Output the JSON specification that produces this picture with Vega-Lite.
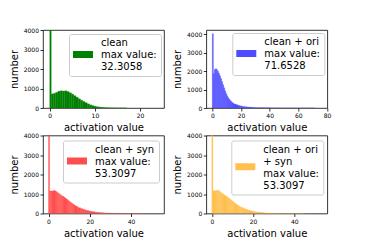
{
  "$schema": "https://vega.github.io/schema/vega-lite/v6.json",
  "padding": {"left": 8, "top": 26, "right": 5, "bottom": 5},
  "columns": 2,
  "spacing": {"row": 27.5, "column": 42.3},
  "bounds": "flush",
  "resolve": {
    "scale": {"color": "independent", "x": "independent", "y": "independent"},
    "legend": {"color": "independent"}
  },
  "config": {
    "font": "DejaVu Sans",
    "view": {"stroke": "black", "strokeWidth": 0.8},
    "axis": {
      "domain": false, "grid": false, "tickColor": "black", "tickWidth": 0.8, "tickSize": 3,
      "labelFontSize": 6, "labelColor": "black", "labelPadding": 1.5, "labelFlush": false, "labelOverlap": false,
      "titleFontSize": 10, "titleFontWeight": "normal", "titleColor": "black", "titlePadding": 4
    },
    "legend": {
      "symbolSize": 100, "symbolStrokeWidth": 0, "symbolOpacity": 1,
      "labelFontSize": 10, "labelColor": "black", "labelOffset": 18, "labelLimit": 200,
      "fillColor": "white", "strokeColor": "#cccccc", "cornerRadius": 2, "padding": 4
    }
  },
  "concat": [
    {
      "width": 121, "height": 78,
      "data": {"values": [
        {"lo": 0, "hi": 0.33, "count": 9000, "series": "clean|max value:|\u00a032.3058"},
        {"lo": 0.33, "hi": 0.8, "count": 720, "series": "clean|max value:|\u00a032.3058"},
        {"lo": 0.8, "hi": 1.3, "count": 750, "series": "clean|max value:|\u00a032.3058"},
        {"lo": 1.3, "hi": 1.8, "count": 800, "series": "clean|max value:|\u00a032.3058"},
        {"lo": 1.8, "hi": 2.3, "count": 860, "series": "clean|max value:|\u00a032.3058"},
        {"lo": 2.3, "hi": 2.8, "count": 880, "series": "clean|max value:|\u00a032.3058"},
        {"lo": 2.8, "hi": 3.3, "count": 870, "series": "clean|max value:|\u00a032.3058"},
        {"lo": 3.3, "hi": 3.8, "count": 880, "series": "clean|max value:|\u00a032.3058"},
        {"lo": 3.8, "hi": 4.3, "count": 840, "series": "clean|max value:|\u00a032.3058"},
        {"lo": 4.3, "hi": 4.8, "count": 780, "series": "clean|max value:|\u00a032.3058"},
        {"lo": 4.8, "hi": 5.3, "count": 710, "series": "clean|max value:|\u00a032.3058"},
        {"lo": 5.3, "hi": 5.8, "count": 630, "series": "clean|max value:|\u00a032.3058"},
        {"lo": 5.8, "hi": 6.3, "count": 550, "series": "clean|max value:|\u00a032.3058"},
        {"lo": 6.3, "hi": 6.8, "count": 470, "series": "clean|max value:|\u00a032.3058"},
        {"lo": 6.8, "hi": 7.3, "count": 400, "series": "clean|max value:|\u00a032.3058"},
        {"lo": 7.3, "hi": 7.8, "count": 330, "series": "clean|max value:|\u00a032.3058"},
        {"lo": 7.8, "hi": 8.3, "count": 270, "series": "clean|max value:|\u00a032.3058"},
        {"lo": 8.3, "hi": 8.8, "count": 210, "series": "clean|max value:|\u00a032.3058"},
        {"lo": 8.8, "hi": 9.3, "count": 160, "series": "clean|max value:|\u00a032.3058"},
        {"lo": 9.3, "hi": 9.8, "count": 120, "series": "clean|max value:|\u00a032.3058"},
        {"lo": 9.8, "hi": 10.3, "count": 90, "series": "clean|max value:|\u00a032.3058"},
        {"lo": 10.3, "hi": 10.8, "count": 65, "series": "clean|max value:|\u00a032.3058"},
        {"lo": 10.8, "hi": 11.3, "count": 45, "series": "clean|max value:|\u00a032.3058"},
        {"lo": 11.3, "hi": 11.8, "count": 32, "series": "clean|max value:|\u00a032.3058"},
        {"lo": 11.8, "hi": 12.3, "count": 22, "series": "clean|max value:|\u00a032.3058"},
        {"lo": 12.3, "hi": 12.8, "count": 15, "series": "clean|max value:|\u00a032.3058"},
        {"lo": 12.8, "hi": 13.5, "count": 9, "series": "clean|max value:|\u00a032.3058"},
        {"lo": 13.5, "hi": 14.5, "count": 5, "series": "clean|max value:|\u00a032.3058"},
        {"lo": 14.5, "hi": 17, "count": 2, "series": "clean|max value:|\u00a032.3058"}
      ]},
      "mark": {"type": "rect", "clip": true, "stroke": "#008000", "strokeWidth": 0.3},
      "encoding": {
        "x": {"field": "lo", "type": "quantitative", "scale": {"domain": [-1.5, 25.3], "nice": false, "zero": false}, "axis": {"values": [0, 10, 20], "title": "activation value"}},
        "x2": {"field": "hi"},
        "y": {"field": "count", "type": "quantitative", "scale": {"domain": [0, 4000], "nice": false}, "axis": {"values": [0, 1000, 2000, 3000, 4000], "format": "d", "title": "number"}},
        "y2": {"datum": 0},
        "color": {"field": "series", "type": "nominal", "scale": {"range": ["#008000"]}, "legend": {"title": null, "orient": "top-right", "offset": 3.5, "labelExpr": "split(datum.label, '|')", "symbolType": "M-1,1.6L3,1.6L3,3L-1,3Z"}}
      }
    },
    {
      "width": 121, "height": 78,
      "data": {"values": [
        {"lo": 0, "hi": 0.72, "count": 4020, "series": "clean + ori|max value:|\u00a071.6528"},
        {"lo": 0.72, "hi": 1.43, "count": 1850, "series": "clean + ori|max value:|\u00a071.6528"},
        {"lo": 1.43, "hi": 2.15, "count": 2080, "series": "clean + ori|max value:|\u00a071.6528"},
        {"lo": 2.15, "hi": 2.87, "count": 2120, "series": "clean + ori|max value:|\u00a071.6528"},
        {"lo": 2.87, "hi": 3.58, "count": 2080, "series": "clean + ori|max value:|\u00a071.6528"},
        {"lo": 3.58, "hi": 4.3, "count": 1990, "series": "clean + ori|max value:|\u00a071.6528"},
        {"lo": 4.3, "hi": 5.0, "count": 1880, "series": "clean + ori|max value:|\u00a071.6528"},
        {"lo": 5.0, "hi": 5.73, "count": 1750, "series": "clean + ori|max value:|\u00a071.6528"},
        {"lo": 5.73, "hi": 6.45, "count": 1600, "series": "clean + ori|max value:|\u00a071.6528"},
        {"lo": 6.45, "hi": 7.17, "count": 1430, "series": "clean + ori|max value:|\u00a071.6528"},
        {"lo": 7.17, "hi": 7.88, "count": 1260, "series": "clean + ori|max value:|\u00a071.6528"},
        {"lo": 7.88, "hi": 8.6, "count": 1090, "series": "clean + ori|max value:|\u00a071.6528"},
        {"lo": 8.6, "hi": 9.32, "count": 930, "series": "clean + ori|max value:|\u00a071.6528"},
        {"lo": 9.32, "hi": 10.03, "count": 790, "series": "clean + ori|max value:|\u00a071.6528"},
        {"lo": 10.03, "hi": 10.75, "count": 660, "series": "clean + ori|max value:|\u00a071.6528"},
        {"lo": 10.75, "hi": 11.47, "count": 560, "series": "clean + ori|max value:|\u00a071.6528"},
        {"lo": 11.47, "hi": 12.18, "count": 480, "series": "clean + ori|max value:|\u00a071.6528"},
        {"lo": 12.18, "hi": 12.9, "count": 410, "series": "clean + ori|max value:|\u00a071.6528"},
        {"lo": 12.9, "hi": 13.62, "count": 350, "series": "clean + ori|max value:|\u00a071.6528"},
        {"lo": 13.62, "hi": 14.33, "count": 300, "series": "clean + ori|max value:|\u00a071.6528"},
        {"lo": 14.33, "hi": 15.05, "count": 260, "series": "clean + ori|max value:|\u00a071.6528"},
        {"lo": 15.05, "hi": 16.5, "count": 215, "series": "clean + ori|max value:|\u00a071.6528"},
        {"lo": 16.5, "hi": 18, "count": 170, "series": "clean + ori|max value:|\u00a071.6528"},
        {"lo": 18, "hi": 19.5, "count": 135, "series": "clean + ori|max value:|\u00a071.6528"},
        {"lo": 19.5, "hi": 21, "count": 105, "series": "clean + ori|max value:|\u00a071.6528"},
        {"lo": 21, "hi": 22.5, "count": 82, "series": "clean + ori|max value:|\u00a071.6528"},
        {"lo": 22.5, "hi": 24, "count": 65, "series": "clean + ori|max value:|\u00a071.6528"},
        {"lo": 24, "hi": 26, "count": 50, "series": "clean + ori|max value:|\u00a071.6528"},
        {"lo": 26, "hi": 28, "count": 38, "series": "clean + ori|max value:|\u00a071.6528"},
        {"lo": 28, "hi": 30, "count": 28, "series": "clean + ori|max value:|\u00a071.6528"},
        {"lo": 30, "hi": 33, "count": 20, "series": "clean + ori|max value:|\u00a071.6528"},
        {"lo": 33, "hi": 36, "count": 13, "series": "clean + ori|max value:|\u00a071.6528"},
        {"lo": 36, "hi": 40, "count": 8, "series": "clean + ori|max value:|\u00a071.6528"},
        {"lo": 40, "hi": 45, "count": 5, "series": "clean + ori|max value:|\u00a071.6528"},
        {"lo": 45, "hi": 55, "count": 2, "series": "clean + ori|max value:|\u00a071.6528"},
        {"lo": 55, "hi": 71.7, "count": 1, "series": "clean + ori|max value:|\u00a071.6528"}
      ]},
      "mark": {"type": "rect", "clip": true, "stroke": "#4d4dff", "strokeWidth": 0.3},
      "encoding": {
        "x": {"field": "lo", "type": "quantitative", "scale": {"domain": [-4.2, 80.2], "nice": false, "zero": false}, "axis": {"values": [0, 20, 40, 60, 80], "title": "activation value"}},
        "x2": {"field": "hi"},
        "y": {"field": "count", "type": "quantitative", "scale": {"domain": [0, 4221], "nice": false}, "axis": {"values": [0, 1000, 2000, 3000, 4000], "format": "d", "title": "number"}},
        "y2": {"datum": 0},
        "color": {"field": "series", "type": "nominal", "scale": {"range": ["#4d4dff"]}, "legend": {"title": null, "orient": "top-right", "offset": 3, "labelExpr": "split(datum.label, '|')", "symbolType": "M-1,1.6L3,1.6L3,3L-1,3Z"}}
      }
    },
    {
      "width": 121, "height": 78,
      "data": {"values": [
        {"lo": 0, "hi": 0.53, "count": 9000, "series": "clean + syn|max value:|\u00a053.3097"},
        {"lo": 0.53, "hi": 1.07, "count": 1150, "series": "clean + syn|max value:|\u00a053.3097"},
        {"lo": 1.07, "hi": 1.6, "count": 1160, "series": "clean + syn|max value:|\u00a053.3097"},
        {"lo": 1.6, "hi": 2.13, "count": 1150, "series": "clean + syn|max value:|\u00a053.3097"},
        {"lo": 2.13, "hi": 2.67, "count": 1170, "series": "clean + syn|max value:|\u00a053.3097"},
        {"lo": 2.67, "hi": 3.2, "count": 1180, "series": "clean + syn|max value:|\u00a053.3097"},
        {"lo": 3.2, "hi": 3.73, "count": 1150, "series": "clean + syn|max value:|\u00a053.3097"},
        {"lo": 3.73, "hi": 4.27, "count": 1110, "series": "clean + syn|max value:|\u00a053.3097"},
        {"lo": 4.27, "hi": 4.8, "count": 1060, "series": "clean + syn|max value:|\u00a053.3097"},
        {"lo": 4.8, "hi": 5.33, "count": 1020, "series": "clean + syn|max value:|\u00a053.3097"},
        {"lo": 5.33, "hi": 5.86, "count": 980, "series": "clean + syn|max value:|\u00a053.3097"},
        {"lo": 5.86, "hi": 6.4, "count": 940, "series": "clean + syn|max value:|\u00a053.3097"},
        {"lo": 6.4, "hi": 6.93, "count": 900, "series": "clean + syn|max value:|\u00a053.3097"},
        {"lo": 6.93, "hi": 7.46, "count": 870, "series": "clean + syn|max value:|\u00a053.3097"},
        {"lo": 7.46, "hi": 8.0, "count": 830, "series": "clean + syn|max value:|\u00a053.3097"},
        {"lo": 8.0, "hi": 8.53, "count": 790, "series": "clean + syn|max value:|\u00a053.3097"},
        {"lo": 8.53, "hi": 9.06, "count": 740, "series": "clean + syn|max value:|\u00a053.3097"},
        {"lo": 9.06, "hi": 9.6, "count": 700, "series": "clean + syn|max value:|\u00a053.3097"},
        {"lo": 9.6, "hi": 10.13, "count": 650, "series": "clean + syn|max value:|\u00a053.3097"},
        {"lo": 10.13, "hi": 10.66, "count": 600, "series": "clean + syn|max value:|\u00a053.3097"},
        {"lo": 10.66, "hi": 11.2, "count": 560, "series": "clean + syn|max value:|\u00a053.3097"},
        {"lo": 11.2, "hi": 11.73, "count": 520, "series": "clean + syn|max value:|\u00a053.3097"},
        {"lo": 11.73, "hi": 12.26, "count": 480, "series": "clean + syn|max value:|\u00a053.3097"},
        {"lo": 12.26, "hi": 12.8, "count": 440, "series": "clean + syn|max value:|\u00a053.3097"},
        {"lo": 12.8, "hi": 13.33, "count": 400, "series": "clean + syn|max value:|\u00a053.3097"},
        {"lo": 13.33, "hi": 13.86, "count": 370, "series": "clean + syn|max value:|\u00a053.3097"},
        {"lo": 13.86, "hi": 14.4, "count": 340, "series": "clean + syn|max value:|\u00a053.3097"},
        {"lo": 14.4, "hi": 15.5, "count": 300, "series": "clean + syn|max value:|\u00a053.3097"},
        {"lo": 15.5, "hi": 16.5, "count": 255, "series": "clean + syn|max value:|\u00a053.3097"},
        {"lo": 16.5, "hi": 17.5, "count": 215, "series": "clean + syn|max value:|\u00a053.3097"},
        {"lo": 17.5, "hi": 18.5, "count": 180, "series": "clean + syn|max value:|\u00a053.3097"},
        {"lo": 18.5, "hi": 19.5, "count": 150, "series": "clean + syn|max value:|\u00a053.3097"},
        {"lo": 19.5, "hi": 20.5, "count": 125, "series": "clean + syn|max value:|\u00a053.3097"},
        {"lo": 20.5, "hi": 21.5, "count": 105, "series": "clean + syn|max value:|\u00a053.3097"},
        {"lo": 21.5, "hi": 22.5, "count": 85, "series": "clean + syn|max value:|\u00a053.3097"},
        {"lo": 22.5, "hi": 24, "count": 68, "series": "clean + syn|max value:|\u00a053.3097"},
        {"lo": 24, "hi": 25.5, "count": 52, "series": "clean + syn|max value:|\u00a053.3097"},
        {"lo": 25.5, "hi": 27, "count": 38, "series": "clean + syn|max value:|\u00a053.3097"},
        {"lo": 27, "hi": 29, "count": 26, "series": "clean + syn|max value:|\u00a053.3097"},
        {"lo": 29, "hi": 31, "count": 17, "series": "clean + syn|max value:|\u00a053.3097"},
        {"lo": 31, "hi": 34, "count": 10, "series": "clean + syn|max value:|\u00a053.3097"},
        {"lo": 34, "hi": 38, "count": 5, "series": "clean + syn|max value:|\u00a053.3097"},
        {"lo": 38, "hi": 45, "count": 2, "series": "clean + syn|max value:|\u00a053.3097"}
      ]},
      "mark": {"type": "rect", "clip": true, "stroke": "#ff4d4d", "strokeWidth": 0.3},
      "encoding": {
        "x": {"field": "lo", "type": "quantitative", "scale": {"domain": [-2.67, 55.98], "nice": false, "zero": false}, "axis": {"values": [0, 20, 40], "title": "activation value"}},
        "x2": {"field": "hi"},
        "y": {"field": "count", "type": "quantitative", "scale": {"domain": [0, 4000], "nice": false}, "axis": {"values": [0, 1000, 2000, 3000, 4000], "format": "d", "title": "number"}},
        "y2": {"datum": 0},
        "color": {"field": "series", "type": "nominal", "scale": {"range": ["#ff4d4d"]}, "legend": {"title": null, "orient": "top-right", "offset": 5, "labelExpr": "split(datum.label, '|')", "symbolType": "M-1,1.6L3,1.6L3,3L-1,3Z"}}
      }
    },
    {
      "width": 121, "height": 78,
      "data": {"values": [
        {"lo": 0, "hi": 0.53, "count": 9000, "series": "clean + ori|\u00a0+ syn|max value:|\u00a053.3097"},
        {"lo": 0.53, "hi": 1.07, "count": 1160, "series": "clean + ori|\u00a0+ syn|max value:|\u00a053.3097"},
        {"lo": 1.07, "hi": 1.6, "count": 1170, "series": "clean + ori|\u00a0+ syn|max value:|\u00a053.3097"},
        {"lo": 1.6, "hi": 2.13, "count": 1160, "series": "clean + ori|\u00a0+ syn|max value:|\u00a053.3097"},
        {"lo": 2.13, "hi": 2.67, "count": 1180, "series": "clean + ori|\u00a0+ syn|max value:|\u00a053.3097"},
        {"lo": 2.67, "hi": 3.2, "count": 1190, "series": "clean + ori|\u00a0+ syn|max value:|\u00a053.3097"},
        {"lo": 3.2, "hi": 3.73, "count": 1170, "series": "clean + ori|\u00a0+ syn|max value:|\u00a053.3097"},
        {"lo": 3.73, "hi": 4.27, "count": 1120, "series": "clean + ori|\u00a0+ syn|max value:|\u00a053.3097"},
        {"lo": 4.27, "hi": 4.8, "count": 1070, "series": "clean + ori|\u00a0+ syn|max value:|\u00a053.3097"},
        {"lo": 4.8, "hi": 5.33, "count": 1030, "series": "clean + ori|\u00a0+ syn|max value:|\u00a053.3097"},
        {"lo": 5.33, "hi": 5.86, "count": 990, "series": "clean + ori|\u00a0+ syn|max value:|\u00a053.3097"},
        {"lo": 5.86, "hi": 6.4, "count": 950, "series": "clean + ori|\u00a0+ syn|max value:|\u00a053.3097"},
        {"lo": 6.4, "hi": 6.93, "count": 910, "series": "clean + ori|\u00a0+ syn|max value:|\u00a053.3097"},
        {"lo": 6.93, "hi": 7.46, "count": 870, "series": "clean + ori|\u00a0+ syn|max value:|\u00a053.3097"},
        {"lo": 7.46, "hi": 8.0, "count": 830, "series": "clean + ori|\u00a0+ syn|max value:|\u00a053.3097"},
        {"lo": 8.0, "hi": 8.53, "count": 790, "series": "clean + ori|\u00a0+ syn|max value:|\u00a053.3097"},
        {"lo": 8.53, "hi": 9.06, "count": 745, "series": "clean + ori|\u00a0+ syn|max value:|\u00a053.3097"},
        {"lo": 9.06, "hi": 9.6, "count": 700, "series": "clean + ori|\u00a0+ syn|max value:|\u00a053.3097"},
        {"lo": 9.6, "hi": 10.13, "count": 650, "series": "clean + ori|\u00a0+ syn|max value:|\u00a053.3097"},
        {"lo": 10.13, "hi": 10.66, "count": 600, "series": "clean + ori|\u00a0+ syn|max value:|\u00a053.3097"},
        {"lo": 10.66, "hi": 11.2, "count": 555, "series": "clean + ori|\u00a0+ syn|max value:|\u00a053.3097"},
        {"lo": 11.2, "hi": 11.73, "count": 510, "series": "clean + ori|\u00a0+ syn|max value:|\u00a053.3097"},
        {"lo": 11.73, "hi": 12.26, "count": 470, "series": "clean + ori|\u00a0+ syn|max value:|\u00a053.3097"},
        {"lo": 12.26, "hi": 12.8, "count": 430, "series": "clean + ori|\u00a0+ syn|max value:|\u00a053.3097"},
        {"lo": 12.8, "hi": 13.33, "count": 395, "series": "clean + ori|\u00a0+ syn|max value:|\u00a053.3097"},
        {"lo": 13.33, "hi": 13.86, "count": 360, "series": "clean + ori|\u00a0+ syn|max value:|\u00a053.3097"},
        {"lo": 13.86, "hi": 14.4, "count": 330, "series": "clean + ori|\u00a0+ syn|max value:|\u00a053.3097"},
        {"lo": 14.4, "hi": 15.5, "count": 290, "series": "clean + ori|\u00a0+ syn|max value:|\u00a053.3097"},
        {"lo": 15.5, "hi": 16.5, "count": 245, "series": "clean + ori|\u00a0+ syn|max value:|\u00a053.3097"},
        {"lo": 16.5, "hi": 17.5, "count": 205, "series": "clean + ori|\u00a0+ syn|max value:|\u00a053.3097"},
        {"lo": 17.5, "hi": 18.5, "count": 170, "series": "clean + ori|\u00a0+ syn|max value:|\u00a053.3097"},
        {"lo": 18.5, "hi": 19.5, "count": 140, "series": "clean + ori|\u00a0+ syn|max value:|\u00a053.3097"},
        {"lo": 19.5, "hi": 20.5, "count": 115, "series": "clean + ori|\u00a0+ syn|max value:|\u00a053.3097"},
        {"lo": 20.5, "hi": 21.5, "count": 95, "series": "clean + ori|\u00a0+ syn|max value:|\u00a053.3097"},
        {"lo": 21.5, "hi": 22.5, "count": 77, "series": "clean + ori|\u00a0+ syn|max value:|\u00a053.3097"},
        {"lo": 22.5, "hi": 24, "count": 60, "series": "clean + ori|\u00a0+ syn|max value:|\u00a053.3097"},
        {"lo": 24, "hi": 25.5, "count": 45, "series": "clean + ori|\u00a0+ syn|max value:|\u00a053.3097"},
        {"lo": 25.5, "hi": 27, "count": 32, "series": "clean + ori|\u00a0+ syn|max value:|\u00a053.3097"},
        {"lo": 27, "hi": 29, "count": 21, "series": "clean + ori|\u00a0+ syn|max value:|\u00a053.3097"},
        {"lo": 29, "hi": 31, "count": 13, "series": "clean + ori|\u00a0+ syn|max value:|\u00a053.3097"},
        {"lo": 31, "hi": 34, "count": 8, "series": "clean + ori|\u00a0+ syn|max value:|\u00a053.3097"},
        {"lo": 34, "hi": 38, "count": 4, "series": "clean + ori|\u00a0+ syn|max value:|\u00a053.3097"},
        {"lo": 38, "hi": 45, "count": 2, "series": "clean + ori|\u00a0+ syn|max value:|\u00a053.3097"}
      ]},
      "mark": {"type": "rect", "clip": true, "stroke": "#ffc04d", "strokeWidth": 0.3},
      "encoding": {
        "x": {"field": "lo", "type": "quantitative", "scale": {"domain": [-2.67, 55.98], "nice": false, "zero": false}, "axis": {"values": [0, 20, 40], "title": "activation value"}},
        "x2": {"field": "hi"},
        "y": {"field": "count", "type": "quantitative", "scale": {"domain": [0, 4000], "nice": false}, "axis": {"values": [0, 1000, 2000, 3000, 4000], "format": "d", "title": "number"}},
        "y2": {"datum": 0},
        "color": {"field": "series", "type": "nominal", "scale": {"range": ["#ffc04d"]}, "legend": {"title": null, "orient": "top-right", "offset": 4.5, "labelExpr": "split(datum.label, '|')", "symbolType": "M-1,2.75L3,2.75L3,4.15L-1,4.15Z"}}
      }
    }
  ]
}
